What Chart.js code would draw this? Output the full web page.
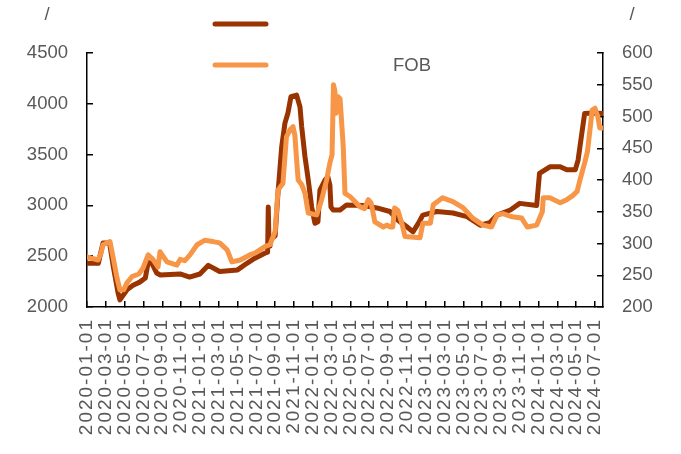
<!DOCTYPE html>
<html>
<head>
<meta charset="utf-8">
<script src="https://cdn.jsdelivr.net/npm/chart.js@4/dist/chart.umd.min.js"></script>
<style>
  html, body { margin: 0; background: #fff; }
</style>
</head>
<body>
<canvas id="chart" width="681" height="454"></canvas>
<script>
// x values are months since 2020-01-01
const domesticMonths = [0, 1.2, 1.7, 2.4, 2.8, 3.3, 3.5, 4.25, 4.9, 5.6, 6.2, 6.5, 6.9, 7.4, 7.8, 9.9, 10.9, 12, 12.9, 14.1, 16, 17, 17.85, 18.9, 19.2, 19.27, 19.35, 19.45, 20, 20.3, 20.7, 21.04, 21.36, 21.68, 22.28, 22.64, 22.82, 23.17, 23.52, 23.88, 24.23, 24.55, 24.76, 25.3, 25.6, 25.82, 25.93, 26.17, 26.9, 27.6, 29.3, 30.8, 32.2, 33.05, 34, 34.65, 35.2, 35.7, 37.2, 38.9, 40.4, 41.8, 42.8, 43.6, 45, 46, 47.8, 48.1, 49.2, 50.3, 51, 51.9, 52.2, 52.6, 52.9, 53.8, 54.85];
const domesticPrice = [2430, 2430, 2630, 2630, 2395, 2140, 2070, 2170, 2215, 2245, 2285, 2440, 2430, 2335, 2315, 2325, 2295, 2325, 2410, 2350, 2365, 2430, 2480, 2530, 2540, 2985, 2600, 2660, 2700, 3120, 3580, 3810, 3910, 4070, 4085, 3970, 3775, 3480, 3250, 2985, 2825, 2840, 3150, 3250, 3280, 3200, 2985, 2955, 2955, 3005, 3000, 2975, 2940, 2855, 2790, 2740, 2820, 2905, 2940, 2925, 2890, 2805, 2830, 2905, 2955, 3020, 3000, 3315, 3380, 3380, 3350, 3350, 3445, 3710, 3905, 3910, 3905];

const fobMonths = [0, 1.17, 1.5, 1.7, 2.44, 2.76, 3.2, 3.5, 3.9, 4.25, 4.8, 5.5, 5.95, 6.5, 7, 7.55, 7.76, 8.5, 9.56, 9.9, 10.4, 10.95, 11.7, 12.5, 13.4, 14.1, 14.9, 15.4, 16.3, 17.3, 17.85, 18.9, 19.45, 20, 20.3, 20.83, 21.2, 21.57, 21.9, 22.1, 22.28, 22.45, 22.85, 23.17, 23.52, 24.41, 24.94, 25.47, 25.82, 26.05, 26.2, 26.35, 26.46, 26.7, 26.9, 27.24, 27.42, 27.95, 28.3, 29, 29.5, 29.9, 30.2, 30.6, 31.5, 31.9, 32.2, 32.5, 32.7, 33.05, 33.5, 33.8, 35.4, 35.7, 36.5, 36.8, 37.8, 38.9, 40, 41, 42.1, 43, 43.6, 44.2, 45.2, 46.2, 46.8, 47.8, 48.4, 48.5, 49.2, 50.3, 51, 51.6, 52.1, 52.4, 52.9, 53.2, 53.7, 54, 54.3, 54.5, 54.85];
const fobPrice = [279, 274, 285, 298, 303, 279, 245, 227, 227, 238, 248, 252, 261, 282, 275, 263, 287, 271, 266, 275, 273, 282, 298, 305, 303, 301, 290, 271, 274, 282, 285, 295, 298, 319, 384, 395, 468, 479, 484, 470, 432, 400, 392, 379, 348, 345, 369, 400, 427, 440, 550, 540, 505, 531, 528, 452, 379, 374, 369, 358, 355, 369, 364, 334, 326, 329, 326, 326, 356, 352, 330, 311, 309, 332, 332, 361, 372, 366, 356, 340, 329, 326, 345, 347, 342, 340, 326, 329, 350, 372, 372, 364, 369, 375, 382, 400, 427, 445, 510, 513, 500, 482, 482];

const seriesNames = ["", "FOB"];
const leftTitle = "/";
const rightTitle = "/";

const TEXT = "#595959";
const FONT = "'Liberation Sans', Arial, sans-serif";

function pairUp(xs, ys) {
  return xs.map((x, i) => ({ x: x, y: ys[i] }));
}

function monthLabel(v) {
  const y = 2020 + Math.floor(v / 12);
  const m = (v % 12) + 1;
  return y + "-" + String(m).padStart(2, "0") + "-01";
}

// legend and the two axis titles, Excel style
const extras = {
  id: "extras",
  afterDraw(chart) {
    const ctx = chart.ctx;
    const area = chart.chartArea;
    ctx.save();
    ctx.font = "18.5px " + FONT;
    ctx.fillStyle = TEXT;
    ctx.textBaseline = "middle";
    ctx.textAlign = "center";
    ctx.fillText(leftTitle, area.left - 40, 15);
    ctx.fillText(rightTitle, area.right + 29, 15);

    const rows = [24, 65];
    chart.data.datasets.forEach((ds, i) => {
      const y = rows[i];
      ctx.strokeStyle = ds.borderColor;
      ctx.lineWidth = 5;
      ctx.lineCap = "round";
      ctx.beginPath();
      ctx.moveTo(215, y);
      ctx.lineTo(266, y);
      ctx.stroke();
      ctx.textAlign = "left";
      ctx.fillText(ds.label, 393, y + 1);
    });
    ctx.restore();
  },
};

const axisLine = { display: true, color: "#000", width: 1.5 };
const innerTicks = {
  drawOnChartArea: false,
  drawTicks: true,
  tickLength: -6,
  color: "#000",
  lineWidth: 1.5,
};

new Chart(document.getElementById("chart"), {
  type: "line",
  data: {
    datasets: [
      {
        label: seriesNames[0],
        data: pairUp(domesticMonths, domesticPrice),
        yAxisID: "y",
        borderColor: "#993300",
        borderWidth: 5,
        order: 1,
      },
      {
        label: seriesNames[1],
        data: pairUp(fobMonths, fobPrice),
        yAxisID: "y1",
        borderColor: "#F79646",
        borderWidth: 5,
        order: 0,
      },
    ],
  },
  options: {
    responsive: false,
    animation: false,
    layout: { padding: { top: 53, left: 0, right: 0, bottom: 0 } },
    elements: {
      point: { radius: 0 },
      line: { tension: 0, borderJoinStyle: "round", borderCapStyle: "round" },
    },
    plugins: { legend: { display: false }, tooltip: { enabled: false } },
    scales: {
      x: {
        type: "linear",
        min: 0,
        max: 54.85,
        grid: innerTicks,
        border: axisLine,
        ticks: {
          stepSize: 2,
          includeBounds: false,
          autoSkip: false,
          minRotation: 90,
          maxRotation: 90,
          padding: 17,
          color: TEXT,
          font: { family: FONT, size: 19 },
          callback: (v) => monthLabel(v),
        },
        afterFit(scale) {
          scale.height = 147;
          if (!scale.spaced) {
            const draw = scale.drawLabels;
            scale.drawLabels = function (area) {
              this.ctx.save();
              this.ctx.letterSpacing = "2px";
              draw.call(this, area);
              this.ctx.restore();
            };
            scale.spaced = true;
          }
        },
      },
      y: {
        position: "left",
        min: 2000,
        max: 4500,
        grid: innerTicks,
        border: axisLine,
        ticks: {
          stepSize: 500,
          padding: 25,
          color: TEXT,
          font: { family: FONT, size: 18.5 },
          callback: (v) => String(v),
        },
        afterFit(scale) {
          scale.width = 87;
        },
      },
      y1: {
        position: "right",
        min: 200,
        max: 600,
        grid: innerTicks,
        border: axisLine,
        ticks: {
          stepSize: 50,
          padding: 25,
          color: TEXT,
          font: { family: FONT, size: 18.5 },
          callback: (v) => String(v),
        },
        afterFit(scale) {
          scale.width = 78;
        },
      },
    },
  },
  plugins: [extras],
});
</script>
</body>
</html>
